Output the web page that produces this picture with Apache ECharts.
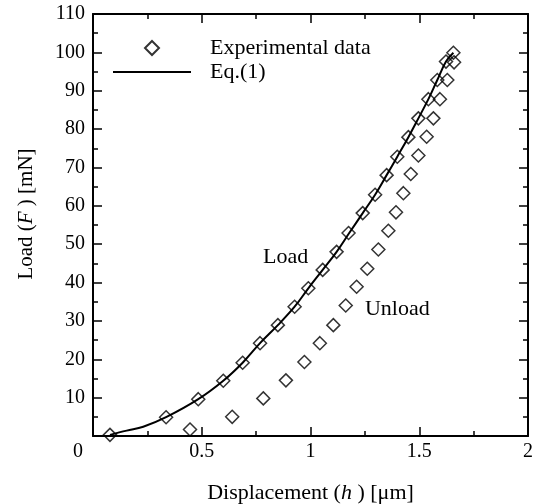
<!DOCTYPE html>
<html>
<head>
<meta charset="utf-8">
<script src="https://cdn.jsdelivr.net/npm/echarts@6/dist/echarts.min.js"></script>
<style>html,body{margin:0;padding:0;background:#fff}#c{width:544px;height:504px}</style>
</head>
<body>
<div id="c"></div>
<script>
// Loading branch (experimental diamonds)
var loadH = [0.078, 0.336, 0.484, 0.599, 0.688, 0.768, 0.850, 0.927, 0.990, 1.056, 1.120, 1.175, 1.240, 1.297, 1.350, 1.399, 1.450, 1.496, 1.542, 1.583, 1.623, 1.657];
var loadF = [0.3, 4.9, 9.6, 14.4, 19.1, 24.2, 28.9, 33.7, 38.5, 43.3, 48.0, 52.9, 58.1, 62.9, 68.0, 72.8, 77.9, 82.8, 87.8, 92.8, 97.6, 99.9];
// Unloading branch (experimental diamonds)
var unloadH = [1.660, 1.629, 1.595, 1.565, 1.534, 1.496, 1.461, 1.427, 1.393, 1.358, 1.312, 1.261, 1.212, 1.162, 1.105, 1.043, 0.972, 0.887, 0.783, 0.640, 0.446];
var unloadF = [97.4, 92.8, 87.8, 82.8, 78.0, 73.1, 68.3, 63.3, 58.3, 53.5, 48.6, 43.6, 38.9, 34.0, 28.9, 24.2, 19.3, 14.5, 9.8, 5.0, 1.7];
// Eq.(1) curve
var eqH = [0.078, 0.155, 0.231, 0.336, 0.484, 0.599, 0.688, 0.768, 0.850, 0.927, 0.990, 1.056, 1.120, 1.178, 1.240, 1.297, 1.350, 1.399, 1.450, 1.496, 1.542, 1.583, 1.623, 1.657];
var eqF = [0.3, 1.4, 2.4, 4.9, 9.6, 14.4, 19.1, 24.2, 28.9, 33.7, 38.5, 43.3, 48.0, 52.9, 58.1, 62.9, 68.0, 72.8, 77.9, 82.8, 87.8, 92.8, 97.6, 99.9];
var legendNames = ['Experimental data', 'Eq.(1)'];
var annotations = [{text: 'Load', h: 0.782, f: 46.5}, {text: 'Unload', h: 1.25, f: 33.0}];

function zip(a, b) { return a.map(function (v, i) { return [v, b[i]]; }); }

var FONT = '"Liberation Serif", "DejaVu Serif", serif';
var chart = echarts.init(document.getElementById('c'), null, {renderer: 'canvas'});

var axisCommonX = {
  type: 'value', min: 0, max: 2, interval: 0.5,
  axisLine: {show: true, onZero: false, lineStyle: {color: '#000', width: 2}},
  axisTick: {show: true, inside: true, length: 9, lineStyle: {color: '#000', width: 1.5}},
  minorTick: {show: true, splitNumber: 2, length: 5, lineStyle: {color: '#000', width: 1.5}},
  splitLine: {show: false}
};
var axisCommonY = {
  type: 'value', min: 0, max: 110, interval: 10,
  axisLine: {show: true, onZero: false, lineStyle: {color: '#000', width: 2}},
  axisTick: {show: true, inside: true, length: 9, lineStyle: {color: '#000', width: 1.5}},
  minorTick: {show: true, splitNumber: 2, length: 5, lineStyle: {color: '#000', width: 1.5}},
  splitLine: {show: false}
};

var option = {
  backgroundColor: '#fff',
  animation: false,
  grid: {left: 93, right: 16, top: 14, bottom: 68, containLabel: false, outerBoundsMode: 'none'},
  legend: {
    data: [
      {name: legendNames[0], icon: 'path://M0,0 M78,14 M39,0 L46,7 L39,14 L32,7 Z'},
      {name: legendNames[1], icon: 'path://M0,6 L78,6 L78,8 L0,8 Z', itemStyle: {color: '#000', borderWidth: 0}}
    ],
    orient: 'vertical', left: 107, top: 32,
    itemWidth: 78, itemHeight: 14, itemGap: 2,
    textStyle: {fontFamily: FONT, fontSize: 22, color: '#000', padding: [0, 0, 0, 14]}
  },
  xAxis: [
    Object.assign({}, axisCommonX, {
      position: 'bottom',
      name: 'Displacement ({i|h} ) [μm]', nameLocation: 'middle', nameGap: 46,
      nameTextStyle: {fontFamily: FONT, fontSize: 22, color: '#000',
        rich: {i: {fontFamily: FONT, fontSize: 22, fontStyle: 'italic', color: '#000'}}},
      axisLabel: {show: true, margin: 6, fontFamily: FONT, fontSize: 20, color: '#000',
        formatter: function (v) { return v === 0 ? '{z|0}' : String(v); },
        rich: {z: {fontFamily: FONT, fontSize: 20, color: '#000', padding: [0, 30, 0, 0]}}}
    }),
    Object.assign({}, axisCommonX, {position: 'top', axisLabel: {show: false}})
  ],
  yAxis: [
    Object.assign({}, axisCommonY, {
      position: 'left',
      name: 'Load ({i|F} ) [mN]', nameLocation: 'middle', nameGap: 56, nameRotate: 90,
      nameTextStyle: {fontFamily: FONT, fontSize: 21, color: '#000', padding: [0, 0, 0, 22],
        rich: {i: {fontFamily: FONT, fontSize: 21, fontStyle: 'italic', color: '#000'}}},
      axisLabel: {show: true, margin: 8, fontFamily: FONT, fontSize: 20, color: '#000', showMinLabel: false}
    }),
    Object.assign({}, axisCommonY, {position: 'right', axisLabel: {show: false}})
  ],
  series: [
    {
      name: 'Eq.(1)', type: 'line', smooth: 0.4, symbol: 'none', showSymbol: false,
      data: zip(eqH, eqF),
      lineStyle: {color: '#000', width: 2}, itemStyle: {color: '#000'}, z: 3
    },
    {
      name: 'Experimental data', type: 'scatter', symbol: 'diamond', symbolSize: 13,
      data: zip(loadH, loadF),
      itemStyle: {color: 'rgba(255,255,255,0)', borderColor: '#000', borderWidth: 1.5}, z: 4
    },
    {
      name: 'Experimental data', type: 'scatter', symbol: 'diamond', symbolSize: 13,
      data: zip(unloadH, unloadF),
      itemStyle: {color: 'rgba(255,255,255,0)', borderColor: '#000', borderWidth: 1.5}, z: 4
    }
  ]
};
chart.setOption(option);

var g = annotations.map(function (a) {
  var p = chart.convertToPixel({xAxisIndex: 0, yAxisIndex: 0}, [a.h, a.f]);
  return {type: 'text', x: p[0], y: p[1],
    style: {text: a.text, fontFamily: FONT, fontSize: 22, fill: '#000', verticalAlign: 'middle', align: 'left'}};
});
chart.setOption({graphic: g});
</script>
</body>
</html>
